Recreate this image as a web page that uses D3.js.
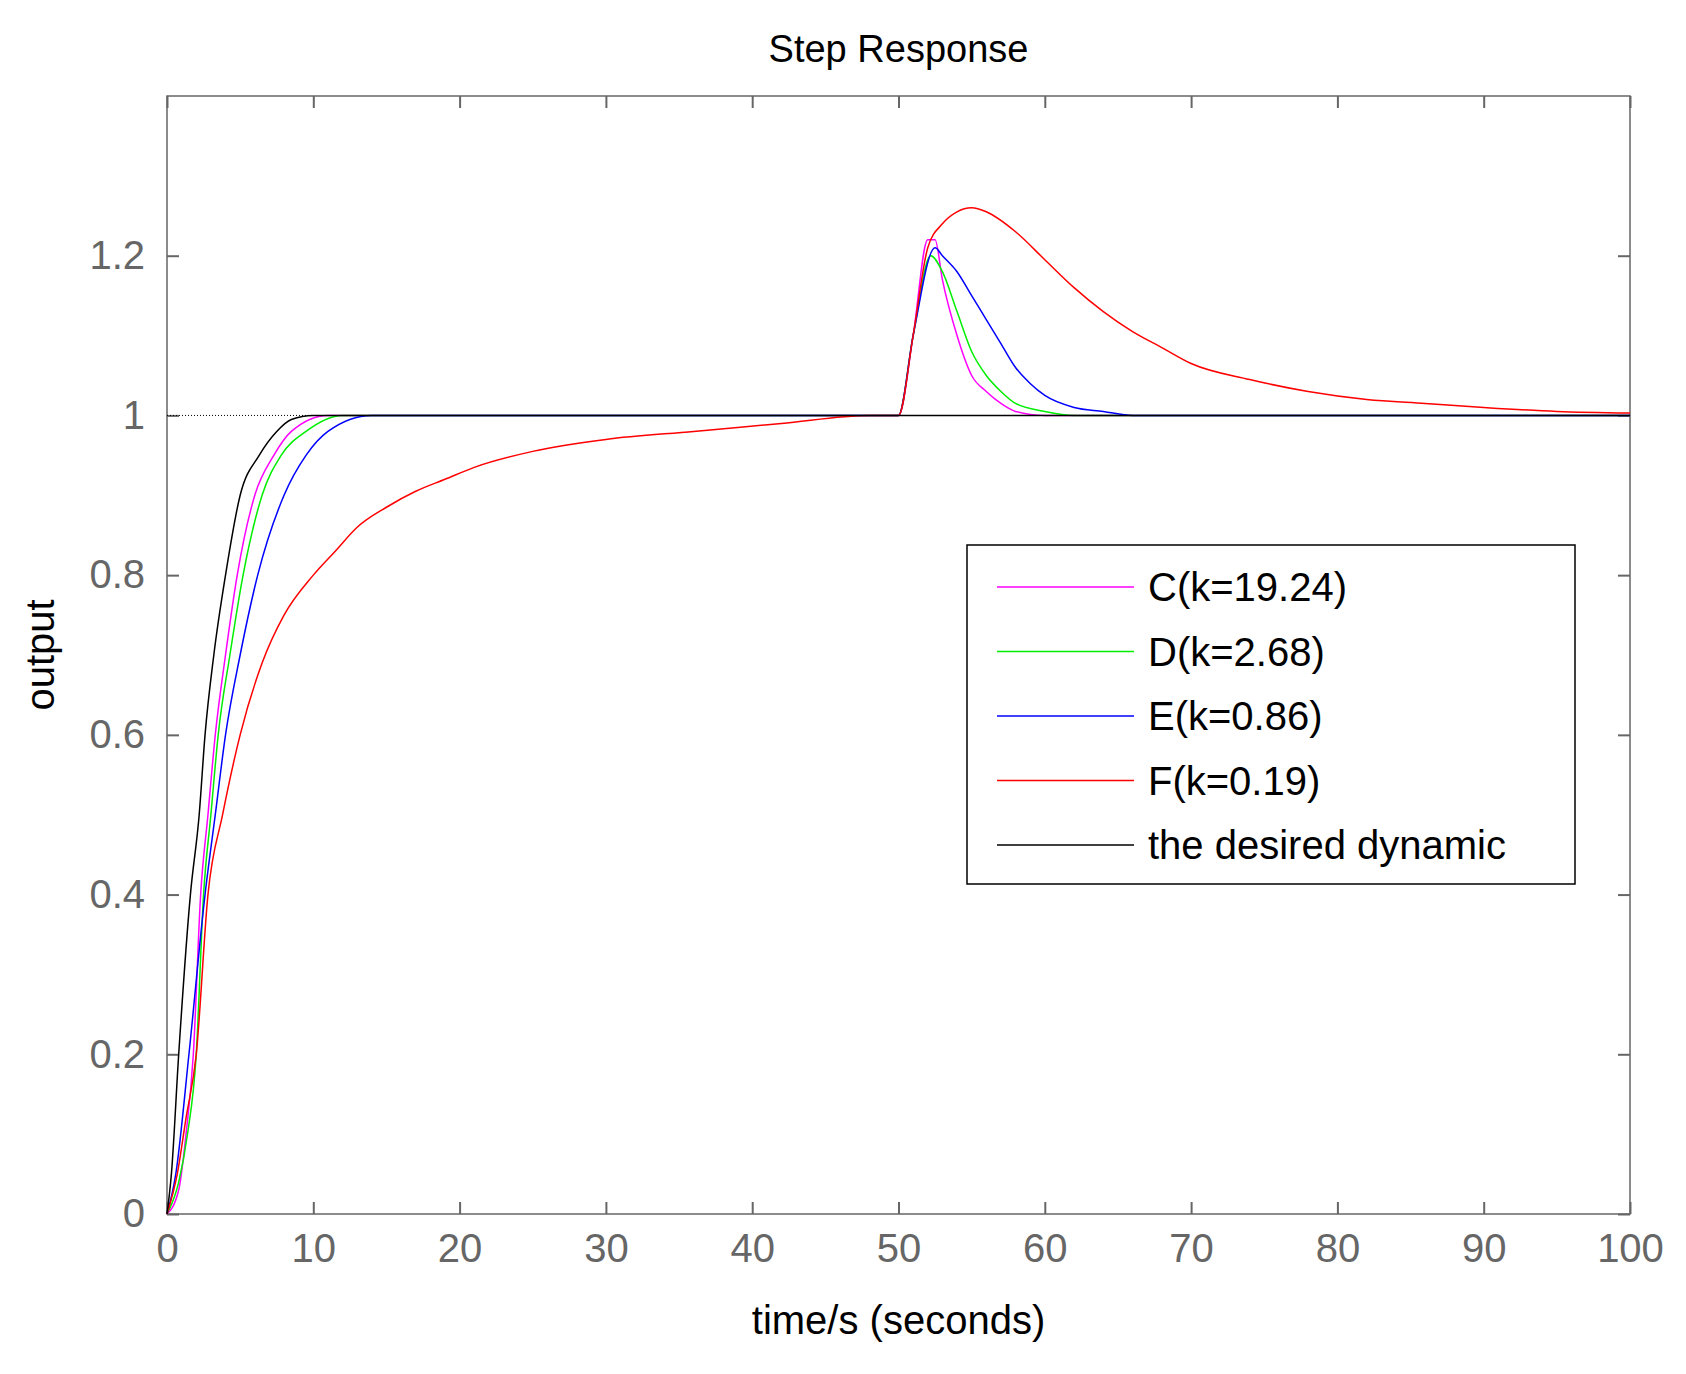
<!DOCTYPE html>
<html><head><meta charset="utf-8">
<script src="https://cdn.jsdelivr.net/npm/d3@7"></script>
<style>body{margin:0;background:#fff}</style></head>
<body><div id="chart"></div>
<script>
var width = 1686, height = 1374;
var m = {left: 167, right: 56, top: 96, bottom: 160};

var xTicks = [0,10,20,30,40,50,60,70,80,90,100];
var yTicks = [0,0.2,0.4,0.6,0.8,1,1.2];
var names = ["C(k=19.24)","D(k=2.68)","E(k=0.86)","F(k=0.19)","the desired dynamic"];
var colors = ["#ff00ff","#00ee00","#0000ff","#ff0000","#000000"];

var tC = [0,0.8,1.3,1.8,2.3,2.8,3.3,4,4.8,6,7.3,8.5,11,50,51,52,52.5,53,54,55,56,57,58,60,100];
var vC = [0,0.03,0.1,0.2,0.4,0.5,0.6,0.7,0.8,0.9,0.95,0.98,1,1,1.1,1.22,1.22,1.17,1.1,1.05,1.03,1.015,1.005,1,1];
var tD = [0,0.8,1.4,2,2.5,3,3.5,4.3,5.2,6.5,7.8,9.5,12,50,51,52.2,53,54,55,56,57,58,60,62,100];
var vD = [0,0.04,0.1,0.2,0.4,0.5,0.6,0.7,0.8,0.9,0.95,0.98,1,1,1.1,1.2,1.18,1.13,1.08,1.05,1.03,1.015,1.005,1,1];
var tE = [0,0.6,1.5,2.6,3.3,4,5,6.2,8,9.5,11,14,50,51,52.5,53,54,55,56,57,58,59,60,62,64,66,100];
var vE = [0,0.05,0.2,0.4,0.5,0.6,0.7,0.8,0.9,0.95,0.98,1,1,1.1,1.21,1.2,1.18,1.15,1.12,1.09,1.06,1.04,1.025,1.01,1.005,1,1];
var tF = [0,0.7,1.3,2,2.8,3.8,5,6.5,8,10,11.5,13,15,17,19,21,25,30,36,42,48,50,51,52,53,54,55,56,58,60,62,64,66,68,70,74,78,82,86,90,95,100];
var vF = [0,0.05,0.12,0.2,0.4,0.5,0.6,0.69,0.75,0.8,0.83,0.86,0.885,0.905,0.92,0.935,0.955,0.97,0.98,0.99,1,1,1.1,1.21,1.24,1.255,1.26,1.255,1.23,1.195,1.16,1.13,1.105,1.085,1.065,1.045,1.03,1.02,1.015,1.01,1.005,1.003];
var tR = [0,0.3,0.8,1.6,2.2,2.6,3.2,4,5,6.3,7.5,8.5,10,100];
var vR = [0,0.05,0.2,0.4,0.5,0.6,0.7,0.8,0.9,0.95,0.98,0.995,1,1];

var series = [[tC,vC],[tD,vD],[tE,vE],[tF,vF],[tR,vR]];

var svg = d3.select("#chart").append("svg").attr("width", width).attr("height", height)
  .style("font-family", "'Liberation Sans', Arial, sans-serif");

var x = d3.scaleLinear().domain([0,100]).range([m.left, width - m.right]);
var y = d3.scaleLinear().domain([0,1.4]).range([height - m.bottom, m.top]);

var axCol = "#666";
svg.append("rect").attr("x", x(0)).attr("y", y(1.4)).attr("width", x(100)-x(0)).attr("height", y(0)-y(1.4))
  .attr("fill", "none").attr("stroke", axCol).attr("stroke-width", 1.5);

var xa = svg.append("g").attr("transform", `translate(0,${y(0)})`)
  .call(d3.axisBottom(x).tickValues(xTicks).tickSize(-12).tickPadding(20));
var xa2 = svg.append("g").attr("transform", `translate(0,${y(1.4)})`)
  .call(d3.axisTop(x).tickValues(xTicks).tickSize(-12).tickFormat(""));
var ya = svg.append("g").attr("transform", `translate(${x(0)},0)`)
  .call(d3.axisLeft(y).tickValues(yTicks).tickSize(-12).tickPadding(22).tickFormat(d3.format("~g")));
var ya2 = svg.append("g").attr("transform", `translate(${x(100)},0)`)
  .call(d3.axisRight(y).tickValues(yTicks).tickSize(-12).tickFormat(""));
[xa,xa2,ya,ya2].forEach(function(a){
  a.select(".domain").remove();
  a.selectAll("line").attr("stroke", axCol).attr("stroke-width", 2);
  a.selectAll("text").attr("fill", axCol).style("font-size", "40px");
});

svg.append("line").attr("x1", x(0)).attr("x2", x(10)).attr("y1", y(1)).attr("y2", y(1))
  .attr("stroke", "#000").attr("stroke-dasharray", "1,2").attr("stroke-width", 1);

var line = d3.line().x(d => x(d[0])).y(d => y(d[1])).curve(d3.curveMonotoneX);
series.forEach(function(s, i){
  var pts = s[0].map((t, j) => [t, s[1][j]]);
  svg.append("path").attr("d", line(pts)).attr("fill", "none")
    .attr("stroke", colors[i]).attr("stroke-width", 1.5);
});

svg.append("text").attr("x", (x(0)+x(100))/2).attr("y", 62).attr("text-anchor", "middle")
  .style("font-size", "38px").text("Step Response");
svg.append("text").attr("x", (x(0)+x(100))/2).attr("y", 1334).attr("text-anchor", "middle")
  .style("font-size", "40px").text("time/s (seconds)");
svg.append("text").attr("transform", `translate(54,${(y(0)+y(1.4))/2}) rotate(-90)`)
  .attr("text-anchor", "middle").style("font-size", "40px").text("output");

var lg = svg.append("g");
lg.append("rect").attr("x", 967).attr("y", 545).attr("width", 608).attr("height", 339)
  .attr("fill", "#fff").attr("stroke", "#000").attr("stroke-width", 1.5);
names.forEach(function(n, i){
  var yy = 587 + i * 64.5;
  lg.append("line").attr("x1", 997).attr("x2", 1134).attr("y1", yy).attr("y2", yy)
    .attr("stroke", colors[i]).attr("stroke-width", 1.5);
  lg.append("text").attr("x", 1148).attr("y", yy + 14).style("font-size", "40px").text(n);
});
</script></body></html>
